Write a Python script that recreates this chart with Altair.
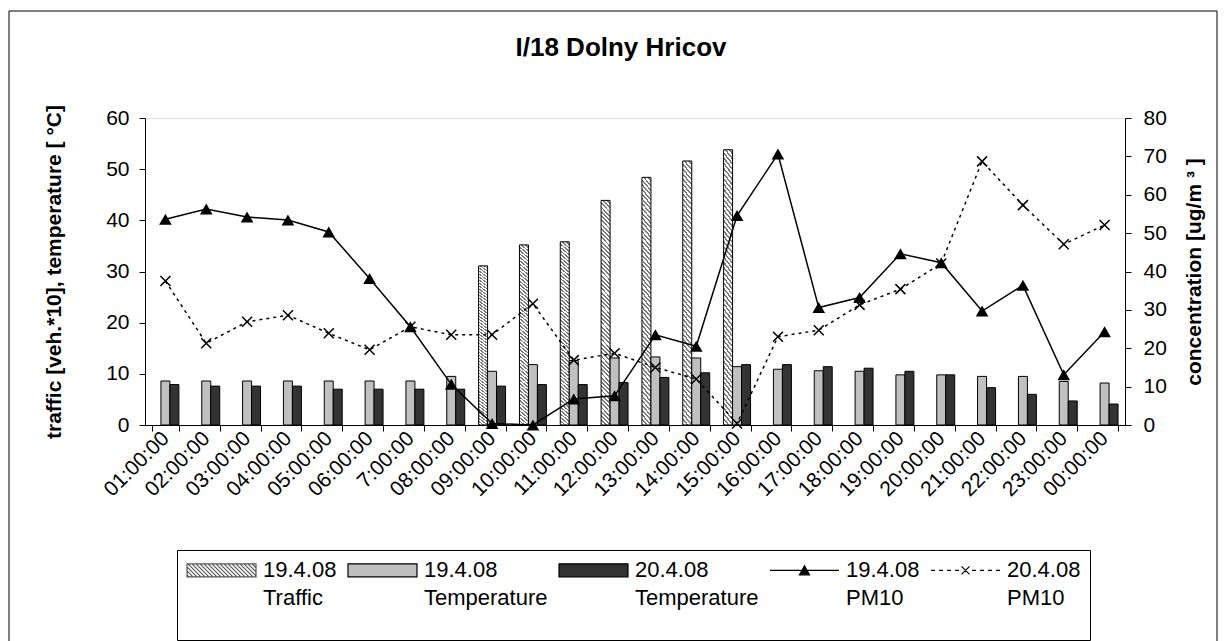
import altair as alt
import pandas as pd

FONT = "Liberation Sans"

# ---------------- data ----------------
times = ["01:00:00", "02:00:00", "03:00:00", "04:00:00", "05:00:00", "06:00:00",
         "7:00:00", "08:00:00", "09:00:00", "10:00:00", "11:00:00", "12:00:00",
         "13:00:00", "14:00:00", "15:00:00", "16:00:00", "17:00:00", "18:00:00",
         "19:00:00", "20:00:00", "21:00:00", "22:00:00", "23:00:00", "00:00:00"]

traffic_19 = [None, None, None, None, None, None, None, None,
              31.1, 35.2, 35.8, 43.9, 48.4, 51.6, 53.8,
              None, None, None, None, None, None, None, None, None]
temp_19 = [8.6, 8.6, 8.6, 8.6, 8.6, 8.6, 8.6, 9.5, 10.5, 11.8, 12.6, 13.1,
           13.3, 13.1, 11.4, 10.9, 10.6, 10.5, 9.8, 9.8, 9.5, 9.5, 8.5, 8.2]
temp_20 = [7.9, 7.6, 7.6, 7.6, 7.0, 7.0, 7.0, 7.0, 7.6, 7.9, 7.9, 8.3,
           9.3, 10.2, 11.8, 11.8, 11.4, 11.1, 10.5, 9.8, 7.3, 6.0, 4.7, 4.1]
pm10_19 = [53.6, 56.3, 54.2, 53.4, 50.3, 38.2, 25.6, 10.6, 0.4, 0.0, 6.8, 7.6,
           23.5, 20.5, 54.6, 70.6, 30.6, 33.2, 44.6, 42.3, 29.7, 36.4, 13.1, 24.3]
pm10_20 = [37.5, 21.3, 26.9, 28.6, 23.9, 19.6, 25.6, 23.5, 23.5, 31.6, 16.9, 18.7,
           15.0, 12.0, 0.4, 23.0, 24.7, 31.3, 35.4, 42.1, 68.7, 57.3, 47.1, 52.1]

bar_series = ["19.4.08 Traffic", "19.4.08 Temperature", "20.4.08 Temperature"]
legend_entries = ["19.4.08|Traffic", "19.4.08|Temperature", "20.4.08|Temperature",
                  "19.4.08|PM10", "20.4.08|PM10"]

title_text = "I/18 Dolny Hricov"
left_title = "traffic [veh.*10], temperature [ °C]"
right_title = "concentration [ug/m ³ ]"

# ---------------- tables ----------------
traffic_df = pd.DataFrame({"time": times, "series": bar_series[0], "value": traffic_19})
temp_df = pd.concat([
    pd.DataFrame({"time": times, "series": bar_series[1], "value": temp_19}),
    pd.DataFrame({"time": times, "series": bar_series[2], "value": temp_20}),
], ignore_index=True)
pm_df = pd.DataFrame({"time": times, "pm19": pm10_19, "pm20": pm10_20})
leg_df = pd.DataFrame({"entry": legend_entries})

# ---------------- styles ----------------
def stripe_stops(n, frac, dark, light):
    stops = []
    for i in range(n):
        s = i / n
        m = (i + frac) / n
        e = (i + 1) / n
        stops += [{"offset": round(s, 5), "color": dark},
                  {"offset": round(m, 5), "color": dark},
                  {"offset": round(m, 5), "color": light},
                  {"offset": round(e, 5), "color": light}]
    return stops

k = 24.0
ga = (1 + k) / (1 + k * k)
gb = k * ga
hatch = {"gradient": "linear", "x1": 0, "y1": 1, "x2": round(ga, 4), "y2": round(1 - gb, 4),
         "stops": stripe_stops(55, 0.45, "#7a7a7a", "#ffffff")}

# legend symbol paths: 1 unit = 10 px; symbol spans x in [-1, 5.9] (69 px), centre 2.45
# (a trailing bare move-to only enlarges the legend box downwards, it draws nothing)
L, R, C = -1.0, 5.9, 2.45
hh = 0.65
pad_move = "M0,5.8"
rect_path = f"M{L},{-hh}H{R}V{hh}H{L}Z"
hatch_segs = []
step = 0.4
x0 = L - 2 * hh + step / 2
while x0 < R:
    xs, ys, xe, ye = x0, -hh, x0 + 2 * hh, hh
    if xs < L:
        ys += (L - xs)
        xs = L
    if xe > R:
        ye -= (xe - R)
        xe = R
    if xs < xe:
        hatch_segs.append(f"M{xs:.3f},{ys:.3f}L{xe:.3f},{ye:.3f}")
    x0 += step
traffic_path = rect_path + "".join(hatch_segs) + pad_move
rect_sym = rect_path + pad_move
pm19_path = f"M{L},0H{R}M{C - 0.5},0.45L{C},-0.45L{C + 0.5},0.45Z" + pad_move
dash_parts = []
for a, b in [(-1.0, -0.6), (-0.2, 0.2), (0.6, 1.0), (1.4, 1.8),
             (3.1, 3.5), (3.9, 4.3), (4.7, 5.1), (5.5, 5.9)]:
    dash_parts.append(f"M{a},0H{b}")
pm20_path = ("".join(dash_parts) + f"M{C - 0.4},-0.4L{C + 0.4},0.4M{C - 0.4},0.4L{C + 0.4},-0.4"
             + pad_move)
x_marker = "M-1,-1L1,1M-1,1L1,-1"

# ---------------- scales / axes ----------------
x_scale = alt.Scale(type="band", domain=times, paddingInner=0.34, paddingOuter=0.17)
x_axis = alt.Axis(title=None, labelAngle=-45, labelAlign="right", labelBaseline="middle",
                  labelFont=FONT, labelFontSize=21, labelColor="black", labelPadding=4,
                  tickBand="extent", tickSize=6, tickColor="black", domainColor="black",
                  grid=False, labelOverlap=False)
X = alt.X("time:N", sort=None, scale=x_scale, axis=x_axis)

left_axis = alt.Axis(title=left_title, values=[0, 10, 20, 30, 40, 50, 60], grid=False,
                     tickSize=6, tickColor="black", domainColor="black",
                     labelFont=FONT, labelFontSize=21, labelColor="black", labelPadding=10,
                     titleFont=FONT, titleFontSize=21, titleFontWeight="bold",
                     titleColor="black", titlePadding=41)
right_axis = alt.Axis(title=right_title, orient="right", values=[0, 10, 20, 30, 40, 50, 60, 70, 80],
                      grid=False, tickSize=6, tickColor="black", domainColor="black",
                      labelFont=FONT, labelFontSize=21, labelColor="black", labelPadding=12,
                      titleFont=FONT, titleFontSize=21, titleFontWeight="bold",
                      titleColor="black", titleAngle=-90, titleBaseline="top", titlePadding=17)
y_left = alt.Scale(domain=[0, 60], nice=False)
y_right = alt.Scale(domain=[0, 80], nice=False)
x_off = alt.XOffset("series:N", scale=alt.Scale(domain=bar_series, paddingInner=0, paddingOuter=0))

# ---------------- layers ----------------
traffic_bars = alt.Chart(traffic_df).mark_bar(fill=hatch, stroke="black", strokeWidth=1).encode(
    x=X, xOffset=x_off,
    y=alt.Y("value:Q", scale=y_left, axis=left_axis),
)
temp_bars = alt.Chart(temp_df).mark_bar(stroke="black", strokeWidth=1).encode(
    x=X, xOffset=x_off,
    y=alt.Y("value:Q", scale=y_left, axis=left_axis),
    color=alt.Color("series:N", scale=alt.Scale(domain=bar_series[1:], range=["#c0c0c0", "#333333"]),
                    legend=None),
)
bars = alt.layer(traffic_bars, temp_bars)

line19 = alt.Chart(pm_df).mark_line(color="black", strokeWidth=1.5).encode(
    x=X, y=alt.Y("pm19:Q", scale=y_right, axis=right_axis))
pts19 = alt.Chart(pm_df).mark_point(shape="triangle-up", filled=True, size=160,
                                    color="black", opacity=1).encode(
    x=X, y=alt.Y("pm19:Q", scale=y_right, axis=right_axis))
line20 = alt.Chart(pm_df).mark_line(color="black", strokeWidth=1.5, strokeDash=[3, 4]).encode(
    x=X, y=alt.Y("pm20:Q", scale=y_right, axis=right_axis))
pts20 = alt.Chart(pm_df).mark_point(shape=x_marker, filled=False, size=100, color="black",
                                    strokeWidth=1.5, opacity=1).encode(
    x=X, y=alt.Y("pm20:Q", scale=y_right, axis=right_axis))
pms = alt.layer(line19, pts19, line20, pts20)

leg = alt.Legend(title=None, orient="none", legendX=32, legendY=432, direction="horizontal",
                 symbolSize=400, symbolStrokeWidth=1.2,
                 symbolFillColor="black", symbolStrokeColor="black",
                 labelExpr="split(datum.label, '|')", labelFont=FONT, labelFontSize=22,
                 labelColor="black", labelBaseline="middle", labelOffset=55, labelLimit=300,
                 columnPadding=8, padding=9, strokeColor="black", fillColor="white")
legend_layer = alt.Chart(leg_df).mark_point(opacity=0, filled=True).encode(
    fill=alt.Fill("entry:N", scale=alt.Scale(domain=legend_entries,
                  range=["#ffffff", "#c0c0c0", "#333333", "black", "black"]), legend=leg),
    stroke=alt.Stroke("entry:N", scale=alt.Scale(domain=legend_entries,
                      range=["#555555", "black", "black", "black", "black"]), legend=leg),
    shape=alt.Shape("entry:N", scale=alt.Scale(domain=legend_entries,
                    range=[traffic_path, rect_sym, rect_sym, pm19_path, pm20_path]), legend=leg),
)

# decorations: chart title and outer frame (relative to the plot area)
deco_src = pd.DataFrame({"k": [0]})
title_mark = alt.Chart(deco_src).mark_text(font=FONT, fontSize=26, fontWeight="bold",
                                           color="black", align="center",
                                           baseline="alphabetic").encode(
    x=alt.value(476), y=alt.value(-62), text=alt.value(title_text))
frame_left = alt.Chart(deco_src).mark_rule(color="black", strokeWidth=1).encode(
    x=alt.value(-136), y=alt.value(-107), y2=alt.value(540))
frame_top = alt.Chart(deco_src).mark_rule(color="black", strokeWidth=1).encode(
    x=alt.value(-136), x2=alt.value(1072), y=alt.value(-107))
frame_right = alt.Chart(deco_src).mark_rule(color="black", strokeWidth=1).encode(
    x=alt.value(1072), y=alt.value(-107), y2=alt.value(540))

chart = alt.layer(bars, pms, legend_layer, title_mark, frame_left, frame_top, frame_right).resolve_scale(
    y="independent"
).properties(
    width=980, height=307,
    padding={"left": 0, "top": 2, "right": 0, "bottom": 0},
).configure_view(
    stroke="#808080", strokeWidth=1
).configure(
    style={"guide-label": {"lineHeight": 28}}
)

chart.save("out.html", embed_options={"renderer": "svg", "actions": False})
